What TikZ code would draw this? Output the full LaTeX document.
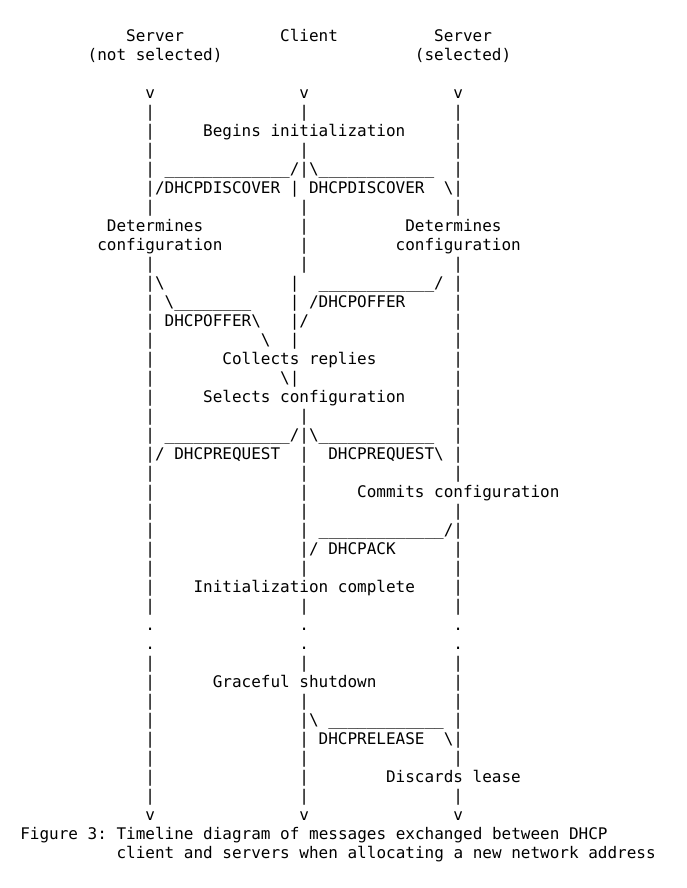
\documentclass[tikz,border=0pt]{standalone}
\usepackage{fontspec}
\setmonofont{DejaVu Sans Mono}
\definecolor{Ink}{HTML}{000000}
\newcommand\lowbars[1]{\foreach\k in {1,...,#1}{\_}}
\newcommand\bsl{\textbackslash}

\begin{document}
\begin{tikzpicture}[x=9.625pt,y=-19pt,
  mono/.style={inner sep=0pt,anchor=base west,text=Ink,
    font=\ttfamily\fontsize{15.99pt}{19pt}\selectfont}]
\useasboundingbox[fill=white] (2.909,-1.184) rectangle (74.18,45.55);
% heads of the three timelines
\node[mono] (srvA) at (16,1) {Server};
\node[mono] (client) at (32,1) {Client};
\node[mono] (srvB) at (48,1) {Server};
\node[mono] (srvAnote) at (12,2) {(not selected)};
\node[mono] (srvBnote) at (46,2) {(selected)};
% the timelines, char by char
\foreach \c in {18,34,50} {
  \node[mono] (top\c) at (\c,4) {v};
  \node[mono] (bot\c) at (\c,42) {v};
  \node[mono] (dotA\c) at (\c,32) {.};
  \node[mono] (dotB\c) at (\c,33) {.};
}
\foreach \r in {5,...,10} \node[mono] (la\r) at (18,\r) {|};
\foreach \r in {13,...,31} \node[mono] (la\r) at (18,\r) {|};
\foreach \r in {34,...,41} \node[mono] (la\r) at (18,\r) {|};
\foreach \r in {5,7,8,10,11,12,13,21,22,23,24,25,26,27,28,29,31,34,36,37,38,39,40,41}
  \node[mono] (lc\r) at (34,\r) {|};
\foreach \r in {9,14,15,16,17,19}
  \node[mono] (lc\r) at (33,\r) {|};
\foreach \r in {5,...,10} \node[mono] (lb\r) at (50,\r) {|};
\foreach \r in {13,...,24} \node[mono] (lb\r) at (50,\r) {|};
\foreach \r in {26,...,31} \node[mono] (lb\r) at (50,\r) {|};
\foreach \r in {34,...,39} \node[mono] (lb\r) at (50,\r) {|};
\node[mono] (lb41) at (50,41) {|};
% discover
\node[mono] (init) at (24,6) {Begins initialization};
\node[mono] (discA) at (20,8) {\lowbars{13}/};
\node[mono] (discB) at (35,8) {\bsl\lowbars{12}};
\node[mono] (discAt) at (19,9) {/DHCPDISCOVER};
\node[mono] (discBt) at (35,9) {DHCPDISCOVER};
\node[mono] (discBh) at (49,9) {\bsl};
\node[mono] (detA) at (14,11) {Determines};
\node[mono] (detB) at (45,11) {Determines};
\node[mono] (cfgA) at (13,12) {configuration};
\node[mono] (cfgB) at (44,12) {configuration};
% offers
\node[mono] (offA1) at (19,14) {\bsl};
\node[mono] (offB1) at (36,14) {\lowbars{12}/};
\node[mono] (offA2) at (20,15) {\bsl\lowbars{8}};
\node[mono] (offB2) at (35,15) {/DHCPOFFER};
\node[mono] (offA3) at (20,16) {DHCPOFFER\bsl};
\node[mono] (offB3) at (34,16) {/};
\node[mono] (offA4) at (30,17) {\bsl};
\node[mono] (collect) at (26,18) {Collects replies};
\node[mono] (offA5) at (32,19) {\bsl};
\node[mono] (select) at (24,20) {Selects configuration};
% request
\node[mono] (reqA) at (20,22) {\lowbars{13}/};
\node[mono] (reqB) at (35,22) {\bsl\lowbars{12}};
\node[mono] (reqAh) at (19,23) {/};
\node[mono] (reqAt) at (21,23) {DHCPREQUEST};
\node[mono] (reqBt) at (37,23) {DHCPREQUEST\bsl};
\node[mono] (commit) at (40,25) {Commits configuration};
% ack
\node[mono] (ack) at (36,27) {\lowbars{13}/};
\node[mono] (ackh) at (35,28) {/};
\node[mono] (ackt) at (37,28) {DHCPACK};
\node[mono] (done) at (23,30) {Initialization complete};
% release
\node[mono] (shut) at (25,35) {Graceful shutdown};
\node[mono] (relh) at (35,37) {\bsl};
\node[mono] (rel) at (37,37) {\lowbars{12}};
\node[mono] (relt) at (36,38) {DHCPRELEASE};
\node[mono] (relh2) at (49,38) {\bsl};
\node[mono] (discard) at (43,40) {Discards lease};
% caption
\node[mono] (capA) at (5,43) {Figure 3: Timeline diagram of messages exchanged between DHCP};
\node[mono] (capB) at (15,44) {client and servers when allocating a new network address};
\end{tikzpicture}
\end{document}
